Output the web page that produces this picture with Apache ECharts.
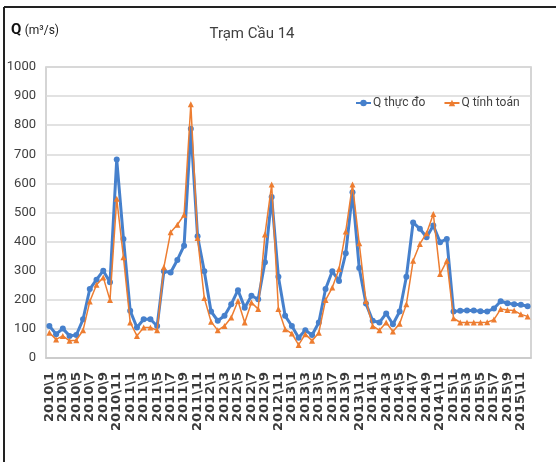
<!DOCTYPE html>
<html>
<head>
<meta charset="utf-8">
<script src="https://cdn.jsdelivr.net/npm/echarts@6/dist/echarts.min.js"></script>
<style>
  html, body { margin: 0; padding: 0; background: #fff; }
  #chart { width: 556px; height: 462px; }
</style>
</head>
<body>
<div id="chart"></div>
<script>
const narrow = "'Liberation Sans Narrow', 'Roboto', 'Open Sans', sans-serif";

const years = [2010, 2011, 2012, 2013, 2014, 2015];
const months = [1, 2, 3, 4, 5, 6, 7, 8, 9, 10, 11, 12];
const categories = [];
years.forEach(y => months.forEach(m => categories.push(y + '\\' + m)));

const yTicks = { min: 0, max: 1000, interval: 100 };

// Q thực đo (measured)
const qMeasured = [
  110, 82, 101, 76, 79, 133, 237, 269, 300, 260, 682, 409,
  162, 105, 133, 133, 110, 298, 294, 337, 386, 788, 418, 298,
  160, 128, 145, 185, 233, 173, 214, 202, 329, 553, 279, 145,
  110, 70, 95, 79, 122, 237, 298, 265, 360, 570, 309, 187,
  128, 122, 153, 116, 160, 279, 466, 444, 415, 455, 398, 409,
  160, 162, 163, 163, 161, 160, 170, 195, 188, 185, 183, 178
];

// Q tính toán (computed)
const qComputed = [
  87, 64, 76, 59, 61, 95, 194, 252, 277, 199, 547, 346,
  122, 76, 105, 105, 95, 312, 432, 458, 492, 872, 412, 206,
  125, 95, 110, 139, 196, 122, 191, 168, 424, 596, 168, 99,
  84, 45, 82, 59, 87, 199, 242, 306, 435, 596, 394, 196,
  110, 95, 122, 91, 118, 185, 334, 392, 429, 495, 289, 334,
  137, 122, 122, 122, 122, 123, 132, 168, 165, 163, 150, 143
];

const blue = '#4680CC';
const orange = '#ED7D31';

const chart = echarts.init(document.getElementById('chart'));

const option = {
  backgroundColor: '#fff',
  animation: false,
  title: {
    text: 'Trạm Cầu 14',
    left: 247,
    textAlign: 'center',
    top: 22,
    textStyle: { fontFamily: narrow, fontSize: 15, fontWeight: 'normal', color: '#404040' }
  },
  graphic: [
    { type: 'line', shape: { x1: 4, y1: 7, x2: 556, y2: 7 }, style: { stroke: '#222', lineWidth: 2 } },
    { type: 'line', shape: { x1: 4, y1: 7, x2: 4, y2: 462 }, style: { stroke: '#222', lineWidth: 2 } },
    {
      type: 'text',
      left: 11,
      top: 23,
      style: {
        text: '{q|Q} {u|(m³/s)}',
        rich: {
          q: { fontFamily: narrow, fontSize: 15, fontWeight: 'bold', fill: '#111' },
          u: { fontFamily: narrow, fontSize: 12, fill: '#222' }
        }
      }
    }
  ],
  legend: {
    left: 350,
    top: 92,
    itemWidth: 15,
    itemHeight: 8,
    itemGap: 18,
    textStyle: { fontFamily: narrow, fontSize: 12, color: '#404040', padding: [0, 0, 0, -3] },
    data: ['Q thực đo', 'Q tính toán']
  },
  grid: {
    left: 46,
    right: 25,
    top: 67,
    bottom: 104,
    show: true,
    borderColor: '#C8C8C8',
    borderWidth: 1.5
  },
  xAxis: {
    type: 'category',
    boundaryGap: true,
    data: categories,
    axisTick: { show: false },
    axisLine: { lineStyle: { color: '#C8C8C8', width: 1.5 } },
    axisLabel: {
      interval: (i) => i % 2 === 0,
      showMinLabel: true,
      hideOverlap: false,
      rotate: 90,
      margin: 14,
      fontFamily: "'DejaVu Sans', sans-serif",
      fontSize: 13,
      fontWeight: 'bold',
      color: '#3a3a3a'
    }
  },
  yAxis: {
    type: 'value',
    min: yTicks.min,
    max: yTicks.max,
    interval: yTicks.interval,
    axisLine: { show: false },
    axisTick: { show: false },
    axisLabel: {
      fontFamily: narrow,
      fontSize: 13,
      color: '#404040',
      margin: 10,
      formatter: (v) => String(v)
    },
    splitLine: { lineStyle: { color: '#D9D9D9', width: 1.5 } }
  },
  series: [
    {
      name: 'Q thực đo',
      type: 'line',
      data: qMeasured,
      symbol: 'circle',
      symbolSize: 6,
      showAllSymbol: true,
      color: blue,
      lineStyle: { color: blue, width: 3 },
      itemStyle: { color: blue },
      z: 2
    },
    {
      name: 'Q tính toán',
      type: 'line',
      data: qComputed,
      symbol: 'triangle',
      symbolSize: 6,
      showAllSymbol: true,
      color: orange,
      lineStyle: { color: orange, width: 1.5 },
      itemStyle: { color: orange },
      z: 3
    }
  ]
};

chart.setOption(option);
</script>
</body>
</html>
